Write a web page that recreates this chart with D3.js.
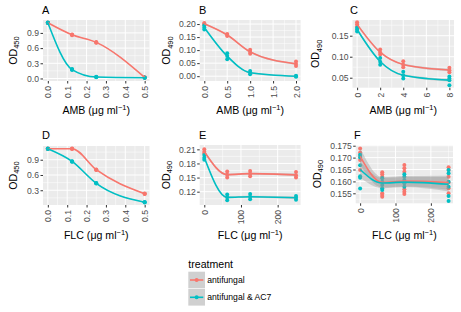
<!DOCTYPE html>
<html><head><meta charset="utf-8">
<script src="https://cdn.jsdelivr.net/npm/d3@7"></script>
<style>
body{margin:0;background:#fff;}
svg{display:block;font-family:"Liberation Sans",Arial,sans-serif;}
</style></head>
<body><svg id="c" width="461" height="312"></svg>
<script>
// ---------- data ----------
const seriesNames = ["antifungal", "antifungal & AC7"];
const seriesColors = ["#F8766D", "#00BFC4"];

// A: AMB, OD450
const xA = [0, 0.125, 0.25, 0.5];
const aRed  = [[1.105,1.100,1.095],[0.870,0.862,0.855],[0.720,0.713,0.706],[0.025,0.020,0.015]];
const aTeal = [[1.105,1.100,1.095],[0.185,0.175,0.168],[0.032,0.028,0.024],[0.018,0.015,0.012]];
// B: AMB, OD490
const xB = [0, 0.5, 1, 2];
const bRed  = [[0.204,0.201,0.198],[0.162,0.158,0.154],[0.101,0.093,0.086],[0.056,0.047,0.039]];
const bTeal = [[0.194,0.187,0.179],[0.088,0.077,0.065],[0.020,0.013,0.007],[0.002,0.000,-0.002]];
// C: AMB, OD490
const xC = [0, 2, 4, 8];
const cRed  = [[0.182,0.177,0.172],[0.117,0.110,0.105],[0.089,0.081,0.075],[0.074,0.068,0.063]];
const cTeal = [[0.169,0.165,0.160],[0.097,0.088,0.081],[0.064,0.056,0.048],[0.053,0.048,0.044,0.032]];
// D: FLC, OD450
const xD = [0, 0.125, 0.25, 0.5];
const dRed  = [[1.120,1.115,1.110],[1.120,1.115,1.110],[0.710,0.704,0.698],[0.238,0.233,0.228]];
const dTeal = [[1.120,1.115,1.110],[0.872,0.867,0.862],[0.441,0.436,0.431],[0.070,0.065,0.060]];
// E: FLC, OD490
const xE = [0, 62.5, 125, 250];
const eRed  = [[0.210,0.205,0.201],[0.163,0.156,0.150],[0.164,0.158,0.153],[0.162,0.155,0.150]];
const eTeal = [[0.198,0.192,0.188],[0.114,0.108,0.102],[0.115,0.109,0.104],[0.111,0.107,0.103]];
// F: FLC, OD490
const xF = [0, 62.5, 125, 250];
const fRed  = [[0.1738,0.1722,0.1708,0.1690,0.1648],[0.1638,0.1630,0.1620,0.1550,0.1543,0.1536],
               [0.1669,0.1655,0.1641,0.1567,0.1557,0.1547],[0.1659,0.1648,0.1620,0.1595,0.1571,0.1550]];
const fTeal = [[0.1712,0.1700,0.1668,0.1622,0.1615,0.1570],[0.1613,0.1599,0.1585,0.1571,0.1564],
               [0.1630,0.1620,0.1606,0.1592,0.1578],[0.1648,0.1634,0.1599,0.1578,0.1539,0.1518]];
// smoothed fits and band half-widths
const fitRedF  = [0.1705, 0.1596, 0.1601, 0.1595];
const fitTealF = [0.1650, 0.1593, 0.1597, 0.1588];
const seF  = [0.0035, 0.0022, 0.0022, 0.0030];
const seA = [0.006,0.006,0.006,0.006];
const seB = [0.003,0.003,0.003,0.003];
const seC = [0.003,0.002,0.002,0.003];
const seD = [0.006,0.006,0.006,0.006];
const seE = [0.003,0.002,0.002,0.003];

// tick values / labels
const xTicksAD = [0,0.1,0.2,0.3,0.4,0.5];
const xLabelsAD = ["0.0","0.1","0.2","0.3","0.4","0.5"];
const xTicksB = [0,0.5,1,1.5,2];
const xLabelsB = ["0.0","0.5","1.0","1.5","2.0"];
const xTicksC = [0,2,4,6,8];
const xLabelsC = ["0","2","4","6","8"];
const xTicksEF = [0,100,200];
const xLabelsEF = ["0","100","200"];
const yTicksA = [0,0.3,0.6,0.9], yLabelsA = ["0.0","0.3","0.6","0.9"];
const yTicksB = [0,0.05,0.1,0.15,0.2], yLabelsB = ["0.00","0.05","0.10","0.15","0.20"];
const yTicksC = [0.05,0.1,0.15], yLabelsC = ["0.05","0.10","0.15"];
const yTicksD = [0.3,0.6,0.9], yLabelsD = ["0.3","0.6","0.9"];
const yTicksE = [0.12,0.15,0.18,0.21], yLabelsE = ["0.12","0.15","0.18","0.21"];
const yTicksF = [0.155,0.16,0.165,0.17,0.175], yLabelsF = ["0.155","0.160","0.165","0.170","0.175"];

const mean = a => d3.mean(a);

// ---------- layout ----------
const panels = [
 {tag:"A", x:xA, s:[aRed,aTeal], fit:[aRed.map(mean),aTeal.map(mean)], se:seA, L:43, R:149.5, T:20, B:81, xd:[-0.025,0.525], yd:[-0.05,1.155],
  xt:xTicksAD, xl:xLabelsAD, yt:yTicksA, yl:yLabelsA, sub:"450", drug:"AMB", ylx:16.7, tagx:42, tagy:14, xly:114},
 {tag:"B", x:xB, s:[bRed,bTeal], fit:[bRed.map(mean),bTeal.map(mean)], se:seB, L:199.7, R:300.6, T:20, B:81, xd:[-0.1,2.1], yd:[-0.0185,0.2155],
  xt:xTicksB, xl:xLabelsB, yt:yTicksB, yl:yLabelsB, sub:"490", drug:"AMB", ylx:170, tagx:199, tagy:14, xly:114},
 {tag:"C", x:xC, s:[cRed,cTeal], fit:[cRed.map(mean),cTeal.map(mean)], se:seC, L:352.5, R:454, T:20, B:87.7, xd:[-0.4,8.4], yd:[0.0262,0.1874],
  xt:xTicksC, xl:xLabelsC, yt:yTicksC, yl:yLabelsC, sub:"490", drug:"AMB", ylx:319.3, tagx:350, tagy:14, xly:114},
 {tag:"D", x:xD, s:[dRed,dTeal], fit:[dRed.map(mean),dTeal.map(mean)], se:seD, L:43, R:149.5, T:146, B:205, xd:[-0.025,0.525], yd:[0.01,1.17],
  xt:xTicksAD, xl:xLabelsAD, yt:yTicksD, yl:yLabelsD, sub:"450", drug:"FLC", ylx:16.7, tagx:42, tagy:139, xly:239},
 {tag:"E", x:xE, s:[eRed,eTeal], fit:[eRed.map(mean),eTeal.map(mean)], se:seE, L:199.7, R:300.6, T:145, B:205, xd:[-12.5,262.5], yd:[0.0917,0.2192],
  xt:xTicksEF, xl:xLabelsEF, yt:yTicksE, yl:yLabelsE, sub:"490", drug:"FLC", ylx:169.5, tagx:199, tagy:139, xly:239},
 {tag:"F", x:xF, s:[fRed,fTeal], fit:[fitRedF,fitTealF], se:seF, L:355.7, R:453, T:145, B:203.3, xd:[-12.5,262.5], yd:[0.1508,0.1753],
  xt:xTicksEF, xl:xLabelsEF, yt:yTicksF, yl:yLabelsF, sub:"490", drug:"FLC", ylx:320.7, tagx:354, tagy:139, xly:239}
];

const svg = d3.select("#c");
const TICKFS = 8.6, TITLEFS = 10.6;

function minors(ticks, dom){
  const step = ticks[1]-ticks[0];
  const out = [];
  for (let v = ticks[0]-step/2; v <= ticks[ticks.length-1]+step; v += step) {
    if (v > dom[0] && v < dom[1]) out.push(v);
  }
  return out;
}

panels.forEach(p => {
  const g = svg.append("g");
  const x = d3.scaleLinear().domain(p.xd).range([p.L, p.R]);
  const y = d3.scaleLinear().domain(p.yd).range([p.B, p.T]);
  g.append("rect").attr("x",p.L).attr("y",p.T).attr("width",p.R-p.L).attr("height",p.B-p.T).attr("fill","#EBEBEB");
  // minor grid
  minors(p.xt,p.xd).forEach(v=>g.append("line").attr("x1",x(v)).attr("x2",x(v)).attr("y1",p.T).attr("y2",p.B).attr("stroke","#fff").attr("stroke-width",0.5));
  minors(p.yt,p.yd).forEach(v=>g.append("line").attr("y1",y(v)).attr("y2",y(v)).attr("x1",p.L).attr("x2",p.R).attr("stroke","#fff").attr("stroke-width",0.5));
  // major grid
  p.xt.forEach(v=>g.append("line").attr("x1",x(v)).attr("x2",x(v)).attr("y1",p.T).attr("y2",p.B).attr("stroke","#fff").attr("stroke-width",1));
  p.yt.forEach(v=>g.append("line").attr("y1",y(v)).attr("y2",y(v)).attr("x1",p.L).attr("x2",p.R).attr("stroke","#fff").attr("stroke-width",1));

  // axes via d3
  const xAxis = d3.axisBottom(x).tickValues(p.xt).tickFormat((d,i)=>p.xl[i]).tickSize(2.5).tickPadding(2);
  const gx = g.append("g").attr("transform",`translate(0,${p.B})`).call(xAxis);
  gx.select(".domain").remove();
  gx.selectAll(".tick line").attr("stroke","#333");
  gx.selectAll(".tick text").attr("fill","#4D4D4D").attr("font-size",TICKFS).attr("font-family","Liberation Sans, Arial, sans-serif")
    .attr("text-anchor","end").attr("dy","0.35em").attr("y",0).attr("x",0)
    .attr("transform","translate(0,5) rotate(-90)");
  const yAxis = d3.axisLeft(y).tickValues(p.yt).tickFormat((d,i)=>p.yl[i]).tickSize(2.5).tickPadding(1.5);
  const gy = g.append("g").attr("transform",`translate(${p.L},0)`).call(yAxis);
  gy.select(".domain").remove();
  gy.selectAll(".tick line").attr("stroke","#333");
  gy.selectAll(".tick text").attr("fill","#4D4D4D").attr("font-size",TICKFS).attr("font-family","Liberation Sans, Arial, sans-serif");

  // clip
  const cid = "clip"+p.tag;
  svg.append("clipPath").attr("id",cid).append("rect").attr("x",p.L).attr("y",p.T).attr("width",p.R-p.L).attr("height",p.B-p.T);
  const plot = g.append("g").attr("clip-path",`url(#${cid})`);

  // points
  p.s.forEach((ser,si)=>{
    ser.forEach((reps,i)=>reps.forEach(v=>{
      plot.append("circle").attr("cx",x(p.x[i])).attr("cy",y(v)).attr("r",2).attr("fill",seriesColors[si]);
    }));
  });
  // bands + lines
  p.fit.forEach((f,si)=>{
    const pts = f.map((v,i)=>({x:p.x[i], v, se:p.se[i]}));
    const area = d3.area().curve(d3.curveMonotoneX).x(d=>x(d.x)).y0(d=>y(d.v-d.se)).y1(d=>y(d.v+d.se));
    plot.append("path").attr("d",area(pts)).attr("fill","#999999").attr("fill-opacity",0.4);
  });
  p.fit.forEach((f,si)=>{
    const pts = f.map((v,i)=>({x:p.x[i], v}));
    const line = d3.line().curve(d3.curveMonotoneX).x(d=>x(d.x)).y(d=>y(d.v));
    plot.append("path").attr("d",line(pts)).attr("fill","none").attr("stroke",seriesColors[si]).attr("stroke-width",1.6);
  });

  // tag
  g.append("text").attr("x",p.tagx).attr("y",p.tagy).attr("font-size",11).attr("fill","#000").text(p.tag);
  // y title
  const yt = g.append("text").attr("transform",`translate(${p.ylx},${(p.T+p.B)/2}) rotate(-90)`).attr("text-anchor","middle").attr("font-size",TITLEFS).attr("fill","#000");
  yt.append("tspan").text("OD");
  yt.append("tspan").attr("font-size",7.5).attr("dy",2.5).text(p.sub);
  // x title
  const xt = g.append("text").attr("x",(p.L+p.R)/2).attr("y",p.xly).attr("text-anchor","middle").attr("font-size",TITLEFS).attr("fill","#000");
  xt.append("tspan").text(p.drug+" (\u03BCg ml");
  xt.append("tspan").attr("font-size",7.5).attr("dy",-4).text("\u22121");
  xt.append("tspan").attr("dy",4).text(")");
});

// legend
const lg = svg.append("g");
lg.append("text").attr("x",188.3).attr("y",267.5).attr("font-size",TITLEFS).attr("fill","#000").text("treatment");
seriesNames.forEach((n,i)=>{
  const ky = 271.7 + i*17.3;
  lg.append("rect").attr("x",188.3).attr("y",ky).attr("width",16.7).attr("height",16.6).attr("fill","#D0D0D0");
  lg.append("line").attr("x1",190).attr("x2",203.3).attr("y1",ky+8.3).attr("y2",ky+8.3).attr("stroke",seriesColors[i]).attr("stroke-width",1.6);
  lg.append("circle").attr("cx",196.65).attr("cy",ky+8.3).attr("r",2).attr("fill",seriesColors[i]);
  lg.append("text").attr("x",207.3).attr("y",ky+8.3).attr("dy","0.35em").attr("font-size",TICKFS).attr("fill","#000").text(n);
});
</script></body></html>
